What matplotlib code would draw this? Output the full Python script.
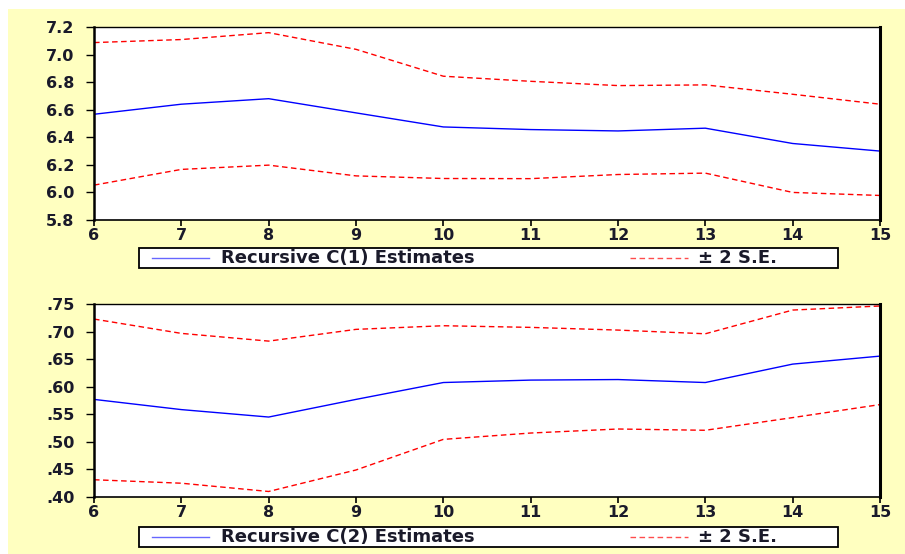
import matplotlib
matplotlib.use("Agg")
import matplotlib.pyplot as plt
from matplotlib.patches import Rectangle
from matplotlib.lines import Line2D

# ---- data ----
obs = [6, 7, 8, 9, 10, 11, 12, 13, 14, 15]

c1_est = [6.567, 6.64, 6.68, 6.577, 6.475, 6.456, 6.446, 6.466, 6.355, 6.30]
c1_upper = [7.087, 7.109, 7.159, 7.038, 6.843, 6.806, 6.775, 6.78, 6.712, 6.64]
c1_lower = [6.053, 6.167, 6.198, 6.12, 6.101, 6.10, 6.13, 6.14, 6.00, 5.978]

c2_est = [0.577, 0.5585, 0.545, 0.577, 0.6076, 0.612, 0.613, 0.6076, 0.641, 0.6555]
c2_upper = [0.7227, 0.6967, 0.6827, 0.704, 0.7106, 0.7076, 0.7027, 0.696, 0.739, 0.7464]
c2_lower = [0.4313, 0.425, 0.41, 0.449, 0.5045, 0.516, 0.5233, 0.521, 0.544, 0.5676]

c1_yticks = [5.8, 6.0, 6.2, 6.4, 6.6, 6.8, 7.0, 7.2]
c1_yticklabels = ["5.8", "6.0", "6.2", "6.4", "6.6", "6.8", "7.0", "7.2"]
c2_yticks = [0.40, 0.45, 0.50, 0.55, 0.60, 0.65, 0.70, 0.75]
c2_yticklabels = [".40", ".45", ".50", ".55", ".60", ".65", ".70", ".75"]

legend_c1 = ["Recursive C(1) Estimates", "± 2 S.E."]
legend_c2 = ["Recursive C(2) Estimates", "± 2 S.E."]

# ---- style ----
W, H = 905, 554
BG = "#FFFFC0"
BLUE = "#0000FF"
RED = "#FF0000"
FONT = "DejaVu Sans"
plt.rcParams["lines.scale_dashes"] = False

fig = plt.figure(figsize=(W / 100, H / 100), dpi=100)
fig.patch.set_facecolor("white")
fig.add_artist(Rectangle((8 / W, 0), 1 - 8 / W, (H - 9) / H, transform=fig.transFigure,
                         facecolor=BG, edgecolor="none", zorder=-10))


def px_box(left, top, right, bottom):
    return [left / W, 1 - bottom / H, (right - left) / W, (bottom - top) / H]


def make_panel(box, est, up, lo, yticks, ylabels, ylim, leg_y, leg_labels):
    ax = fig.add_axes(px_box(*box))
    ax.set_facecolor("white")
    ax.plot(obs, up, color=RED, lw=1.0, dashes=(4, 2.5))
    ax.plot(obs, lo, color=RED, lw=1.0, dashes=(4, 2.5))
    ax.plot(obs, est, color=BLUE, lw=1.0)
    ax.set_xlim(obs[0], obs[-1])
    ax.set_ylim(*ylim)
    ax.set_xticks(obs)
    ax.set_xticklabels([str(o) for o in obs])
    ax.set_yticks(yticks)
    ax.set_yticklabels(ylabels)
    ax.tick_params(axis="x", direction="out", length=4, width=1.2, pad=1.5,
                   labelsize=11.5)
    ax.tick_params(axis="y", direction="out", length=6, width=1.0, pad=8,
                   labelsize=11.5)
    for lab in ax.get_xticklabels() + ax.get_yticklabels():
        lab.set_fontfamily(FONT)
        lab.set_fontweight("bold")
        lab.set_color("#1a1a2a")
    ax.spines["left"].set_linewidth(1.8)
    ax.spines["right"].set_linewidth(2.2)
    ax.spines["top"].set_linewidth(1.0)
    ax.spines["bottom"].set_linewidth(1.2)

    # legend box (figure pixel layout)
    lx0, lx1 = 139, 838
    ly0, ly1 = leg_y - 10, leg_y + 10
    fig.add_artist(Rectangle((lx0 / W, 1 - ly1 / H), (lx1 - lx0) / W, (ly1 - ly0) / H,
                             transform=fig.transFigure, facecolor="white",
                             edgecolor="black", lw=1.3, zorder=5))
    yc = 1 - leg_y / H
    fig.add_artist(Line2D([152 / W, 209 / W], [yc, yc], transform=fig.transFigure,
                          color=BLUE, lw=1.0, alpha=0.6, zorder=6))
    fig.add_artist(Line2D([630 / W, 688 / W], [yc, yc], transform=fig.transFigure,
                          color=RED, lw=1.0, dashes=(4, 2.5), alpha=0.7, zorder=6))
    fig.text(221 / W, yc, leg_labels[0], ha="left", va="center", fontsize=13,
             fontfamily=FONT, fontweight="bold", color="#1a1a2a", zorder=7)
    fig.text(698 / W, yc, leg_labels[1], ha="left", va="center", fontsize=13,
             fontfamily=FONT, fontweight="bold", color="#1a1a2a", zorder=7)
    return ax


make_panel((94, 27, 880, 220), c1_est, c1_upper, c1_lower, c1_yticks, c1_yticklabels,
           (5.8, 7.2), 258, legend_c1)
make_panel((94, 304, 880, 497), c2_est, c2_upper, c2_lower, c2_yticks, c2_yticklabels,
           (0.40, 0.75), 537, legend_c2)

fig.savefig("out.png", dpi=100, facecolor=fig.get_facecolor())
